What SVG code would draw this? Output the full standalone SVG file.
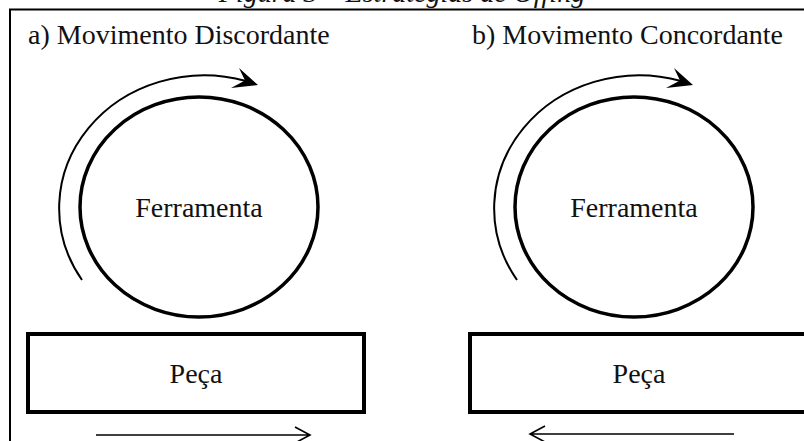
<svg xmlns="http://www.w3.org/2000/svg" width="804" height="441" viewBox="0 0 804 441">
  <style>
    .t { font-family: "Liberation Serif", "Times New Roman", serif; font-size: 28px; fill: #111; }
    .cap { font-style: italic; }
    .tool { fill: none; stroke: #000; stroke-width: 3.5; }
    .part { fill: none; stroke: #000; stroke-width: 4; }
    .rot { fill: none; stroke: #000; stroke-width: 2; }
    .feed { fill: none; stroke: #000; stroke-width: 1.6; }
    .head { fill: #000; stroke: none; }
  </style>
  <defs>
    <path id="rotHead" d="M258,85 L239,68 L245,80.5 L231,88 Z"/>
  </defs>
  <rect width="804" height="441" fill="#fff"/>

  <!-- caption, largely above the frame -->
  <text class="t cap" x="402" y="1.5" text-anchor="middle">Figura 3 – Estratégias de Offing</text>

  <!-- outer frame -->
  <path d="M10,441 V9.5 H804" fill="none" stroke="#000" stroke-width="2"/>

  <text class="t" x="28" y="44">a) Movimento Discordante</text>
  <text class="t" x="472" y="44">b) Movimento Concordante</text>

  <!-- panel a -->
  <g id="tool-a">
    <ellipse class="tool" cx="199" cy="207" rx="119" ry="110"/>
    <text class="t" x="199" y="217" text-anchor="middle">Ferramenta</text>
  </g>
  <g id="part-a">
    <rect class="part" x="28" y="334" width="336" height="78"/>
    <text class="t" x="196" y="383" text-anchor="middle">Peça</text>
  </g>

  <!-- panel b -->
  <g id="tool-b">
    <ellipse class="tool" cx="634" cy="207" rx="119" ry="110"/>
    <text class="t" x="634" y="217" text-anchor="middle">Ferramenta</text>
  </g>
  <g id="part-b">
    <rect class="part" x="470" y="334" width="340" height="78"/>
    <text class="t" x="639" y="383" text-anchor="middle">Peça</text>
  </g>

  <!-- rotation and feed arrows -->
  <g id="connectors">
    <path class="rot" d="M82,280 A145,133 0 0 1 246,81"/>
    <use href="#rotHead" class="head"/>
    <path class="rot" d="M517,280 A145,133 0 0 1 681,81"/>
    <use href="#rotHead" class="head" transform="translate(435,0)"/>

    <path class="feed" d="M96,435 H310 M295,427 L310,435 L295,443"/>
    <path class="feed" d="M734,434 H530 M545,426 L530,434 L545,442"/>
  </g>
</svg>
